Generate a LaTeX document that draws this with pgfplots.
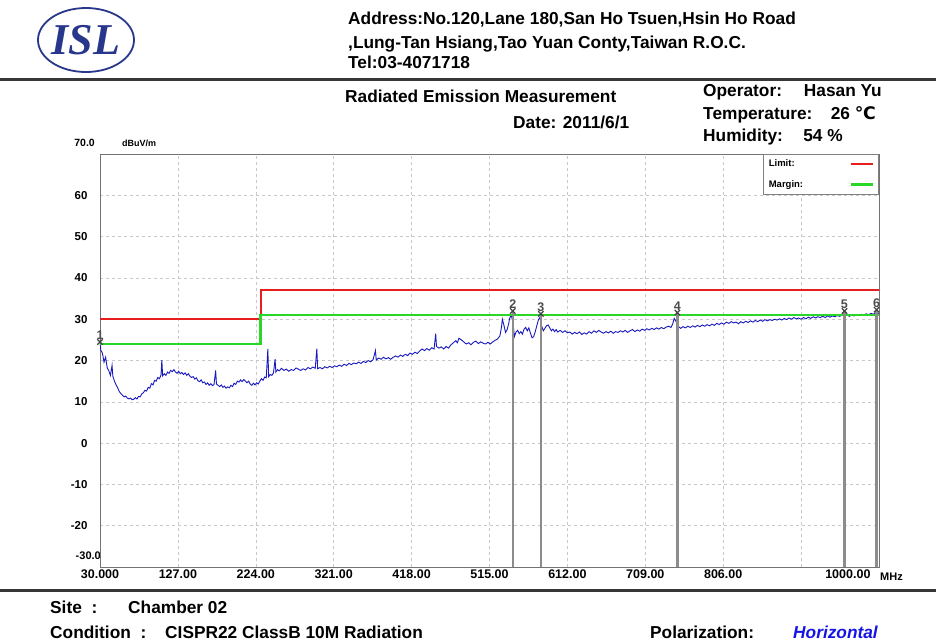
\documentclass[border=0pt]{standalone}
\usepackage{fontspec}
\setmainfont{Liberation Sans}
\newfontfamily\logofont{Liberation Serif}
\newfontfamily\symfont{DejaVu Sans}
\usepackage{pgfplots}
\pgfplotsset{compat=1.18}
\usepackage{pgfplotstable}
\definecolor{trace}{RGB}{25,25,190}
\definecolor{limitred}{RGB}{232,30,30}
\definecolor{margingreen}{RGB}{40,215,40}
\definecolor{logoblue}{RGB}{40,55,140}
\definecolor{gridgray}{RGB}{200,200,200}
\definecolor{rulegray}{RGB}{55,55,55}
\definecolor{polblue}{RGB}{20,20,230}

\pgfplotstableread{
f v
30 24.8
31 22.5
33 21.8
35 19.6
37 20.8
39 18.2
41 17.5
43 16.4
45 18.8
46 16.2
48 15.0
50 14.1
52 13.4
54 12.5
56 12.0
58 11.6
60 11.2
62 11.4
64 10.9
66 10.7
68 10.9
70 10.5
72 10.6
74 11.0
76 10.7
78 11.3
80 11.2
82 11.9
84 12.2
86 12.8
88 12.6
90 13.5
92 13.3
94 14.4
96 14.1
98 15.2
100 15.0
102 15.9
104 15.6
106 16.5
107 20.1
108 16.3
110 16.8
112 16.4
114 17.2
116 16.9
118 17.6
120 17.3
122 17.8
124 17.2
126 16.9
128 17.4
130 16.8
132 17.1
134 16.6
136 17.0
138 16.4
140 16.8
142 16.2
144 15.9
146 16.1
148 15.5
150 15.8
152 15.1
154 14.9
156 15.3
158 14.6
160 14.8
162 14.2
164 14.6
166 14.0
168 14.4
170 13.9
172 14.2
174 17.6
175 14.3
177 14.0
179 13.7
181 14.1
183 13.5
185 13.8
187 13.3
189 13.6
191 13.4
193 14.0
195 13.7
197 14.5
199 14.2
201 15.0
203 14.8
205 15.3
207 14.9
209 15.4
211 15.0
213 14.6
215 15.0
217 14.3
219 14.0
221 14.5
223 14.1
225 14.6
227 14.3
229 15.0
231 15.6
233 15.2
235 16.0
237 15.8
239 22.8
240 16.1
242 16.6
244 16.4
246 17.0
248 20.3
249 17.2
251 17.8
253 17.5
256 18.1
259 17.6
262 17.9
265 17.4
268 17.8
271 17.6
274 18.2
277 17.9
280 17.6
283 18.0
286 17.7
289 18.3
292 18.0
295 18.4
298 18.1
300 22.9
301 18.0
304 18.3
307 18.0
310 18.5
313 18.2
316 18.6
319 18.3
322 18.7
325 18.5
328 18.9
331 18.6
334 19.1
337 18.8
340 19.3
343 19.0
346 19.4
349 19.2
352 19.6
355 19.3
358 19.8
361 19.5
364 20.0
367 19.7
370 20.2
373 22.4
374 20.1
377 20.6
380 20.3
383 20.8
386 20.4
389 20.7
392 20.3
395 20.8
398 21.1
401 20.8
404 21.3
407 21.0
410 21.5
413 21.2
416 21.8
419 21.5
422 22.0
425 21.7
428 22.3
431 22.8
434 22.4
437 22.9
440 22.5
443 23.1
446 22.8
448 26.5
449 23.4
452 23.0
455 23.3
458 22.8
461 23.4
464 23.0
467 23.8
470 24.3
473 24.8
475 24.3
477 25.4
480 25.0
483 24.5
486 24.0
489 24.3
492 23.8
495 24.4
498 24.7
501 24.1
504 24.5
507 24.2
510 24.0
513 24.4
516 24.0
519 24.5
522 24.9
525 25.2
528 26.0
530 28.2
531 30.0
533 28.5
535 26.8
537 27.5
539 29.0
540 30.2
542 31.0
544 29.5
546 25.8
548 26.9
550 27.3
552 26.5
554 27.0
556 26.4
558 27.6
560 28.0
562 27.2
564 27.9
566 26.6
568 25.5
570 25.8
572 27.0
574 28.5
576 29.9
578 30.5
580 28.3
582 27.2
584 27.8
586 28.4
588 28.6
590 27.9
592 27.2
594 27.6
596 27.0
598 27.5
600 26.9
603 27.3
606 26.8
609 27.2
612 26.7
615 26.9
618 26.4
621 26.8
624 26.5
627 26.9
630 26.3
633 26.7
636 26.4
639 27.0
642 26.6
645 27.2
648 26.8
651 27.3
654 26.9
657 26.6
660 27.0
663 26.7
666 27.1
669 26.6
672 27.0
675 26.8
678 27.2
681 26.9
684 27.3
687 26.8
690 27.2
693 27.5
696 27.0
699 27.4
702 27.1
705 27.6
708 27.3
711 27.7
714 27.4
717 27.8
720 27.5
723 27.9
726 27.6
729 28.0
732 27.7
735 28.1
738 28.3
741 28.0
743 28.8
745 30.2
747 29.6
749 28.6
751 28.1
753 27.8
756 28.2
759 27.9
762 28.3
765 28.0
768 28.4
771 28.1
774 28.5
777 28.2
780 28.6
783 28.3
786 28.7
789 28.4
792 28.8
795 28.5
798 29.0
801 28.7
804 29.1
807 28.8
810 29.3
813 29.0
816 29.4
819 29.1
822 29.3
825 28.9
828 29.4
831 29.1
834 29.5
837 29.2
840 29.6
843 29.3
846 29.7
849 29.4
852 29.8
855 29.5
858 29.9
861 29.6
864 29.9
867 29.7
870 30.0
873 29.8
876 30.1
879 29.8
882 30.2
885 29.9
888 30.3
891 30.0
894 30.4
897 30.1
900 30.3
903 30.0
906 30.4
909 30.1
912 30.5
915 30.2
918 30.6
921 30.3
924 30.6
927 30.4
930 30.7
933 30.4
936 30.8
939 30.5
942 30.8
945 30.6
948 30.9
951 30.7
954 31.0
957 30.8
960 31.1
963 30.7
966 31.0
969 30.8
972 31.1
975 30.9
978 31.2
981 31.0
984 31.3
987 31.1
990 31.4
993 31.2
996 31.6
998 31.3
1000 31.5
}\tracedata

\begin{document}
\begin{tikzpicture}
\path[use as bounding box] (0pt,0pt) rectangle (936pt,-641pt);
% logo
\draw[logoblue, line width=1.8pt] (86pt,-40pt) ellipse [x radius=48pt, y radius=32pt];
\node[logoblue, font=\logofont\bfseries\itshape\fontsize{44}{44}\selectfont, inner sep=0] at (86pt,-40pt) {ISL};
% header
\begin{scope}[every node/.style={anchor=base west, inner sep=0, font=\bfseries\fontsize{17.3}{20}\selectfont}]
\node at (348pt,-24pt) {Address:No.120,Lane 180,San Ho Tsuen,Hsin Ho Road};
\node at (348pt,-48pt) {,Lung-Tan Hsiang,Tao Yuan Conty,Taiwan R.O.C.};
\node at (348pt,-68pt) {Tel:03-4071718};
\node at (345pt,-102pt) {Radiated Emission Measurement};
\node at (513pt,-128pt) {Date: 2011/6/1};
\node at (703pt,-96pt) {Operator:};
\node[anchor=base east] at (882pt,-96pt) {Hasan Yu};
\node at (703pt,-119pt) {Temperature:};
\node[anchor=base east] at (876pt,-119pt) {26 {\symfont\bfseries ℃}};
\node at (703pt,-141pt) {Humidity:};
\node[anchor=base east] at (843pt,-141pt) {54 \%};
\node at (50pt,-613pt) {Site\ \ :};
\node at (128pt,-613pt) {Chamber 02};
\node at (50pt,-638pt) {Condition\ \ :};
\node at (165pt,-638pt) {CISPR22 ClassB 10M Radiation};
\node at (650pt,-638pt) {Polarization:};
\node[text=polblue, font=\bfseries\itshape\fontsize{17.3}{20}\selectfont] at (793pt,-638pt) {Horizontal};
\end{scope}
\fill[rulegray] (0pt,-77.5pt) rectangle (936pt,-80.5pt);
\fill[rulegray] (0pt,-588.5pt) rectangle (936pt,-591.5pt);
% axis extra labels
\node[anchor=east, inner sep=0, font=\bfseries\fontsize{10.5}{12}\selectfont] at (95pt,-143pt) {70.0};
\node[anchor=west, inner sep=0, font=\bfseries\fontsize{9}{10}\selectfont] at (122pt,-143pt) {dBuV/m};
\node[anchor=east, inner sep=0, font=\bfseries\fontsize{11}{12}\selectfont] at (101pt,-556pt) {-30.0};
\node[anchor=west, inner sep=0, font=\bfseries\fontsize{11}{12}\selectfont] at (880pt,-577pt) {MHz};

\begin{axis}[
  at={(100pt,-567pt)}, anchor=south west,
  scale only axis, width=779pt, height=413pt,
  xmin=30, xmax=1000, ymin=-30, ymax=70,
  xtick={30,127,224,321,418,515,612,709,806,903},
  xticklabels={30.000,127.00,224.00,321.00,418.00,515.00,612.00,709.00,806.00,},
  extra x ticks={1000},
  extra x tick labels={1000.00},
  extra x tick style={grid=none, xticklabel style={anchor=north east, xshift=-5pt}},
  ytick={-30,-20,-10,0,10,20,30,40,50,60,70},
  yticklabels={,-20,-10,0,10,20,30,40,50,60,},
  major tick length=0pt,
  xticklabel style={font=\bfseries\fontsize{12.5}{14}\selectfont, yshift=1pt},
  yticklabel style={font=\bfseries\fontsize{11.5}{13}\selectfont, anchor=east, xshift=-9pt},
  grid=major,
  major grid style={gridgray, dash pattern=on 3pt off 3pt, line width=0.6pt},
  axis line style={draw=black!55, line width=1pt},
  legend plot pos=right,
  legend cell align=left,
  legend style={at={(1,1)}, anchor=north east, draw=black!50, line width=0.6pt,
    font=\bfseries\fontsize{9.5}{11}\selectfont, inner sep=4.5pt, row sep=10pt,
    nodes={text width=80pt, inner sep=1pt}},
  legend image code/.code={\draw[#1] (0pt,0pt) -- (22pt,0pt);},
  clip=false,
]
\addplot[trace, line width=0.9pt, forget plot] table[x=f, y=v] {\tracedata};
\addplot[limitred, line width=2pt] coordinates {(30,30) (230,30) (230,37) (1000,37)};
\addlegendentry{Limit:}
\addplot[margingreen, line width=2.4pt] coordinates {(30,24) (230,24) (230,31) (1000,31)};
\addlegendentry{Margin:}
\addplot[black!45, line width=2.2pt, unbounded coords=jump, forget plot] coordinates {
  (544,-30) (544,32.0) (544,nan)
  (579,-30) (579,31.3) (579,nan)
  (749,-30) (749,31.6) (749,nan)
  (957,-30) (957,32.0) (957,nan)
  (997,-30) (997,32.3)};
\addplot[only marks, mark=x, mark size=3.8pt, black!75, line width=1.2pt, forget plot,
  point meta=explicit symbolic, nodes near coords,
  every node near coord/.append style={font=\bfseries\fontsize{12.5}{13}\selectfont, text=black!70, anchor=south, inner sep=1.5pt}]
  coordinates {(30,24.5) [1] (544,32.0) [2] (579,31.3) [3] (749,31.6) [4] (957,32.0) [5] (997,32.3) [6]};
\end{axis}
\end{tikzpicture}
\end{document}
